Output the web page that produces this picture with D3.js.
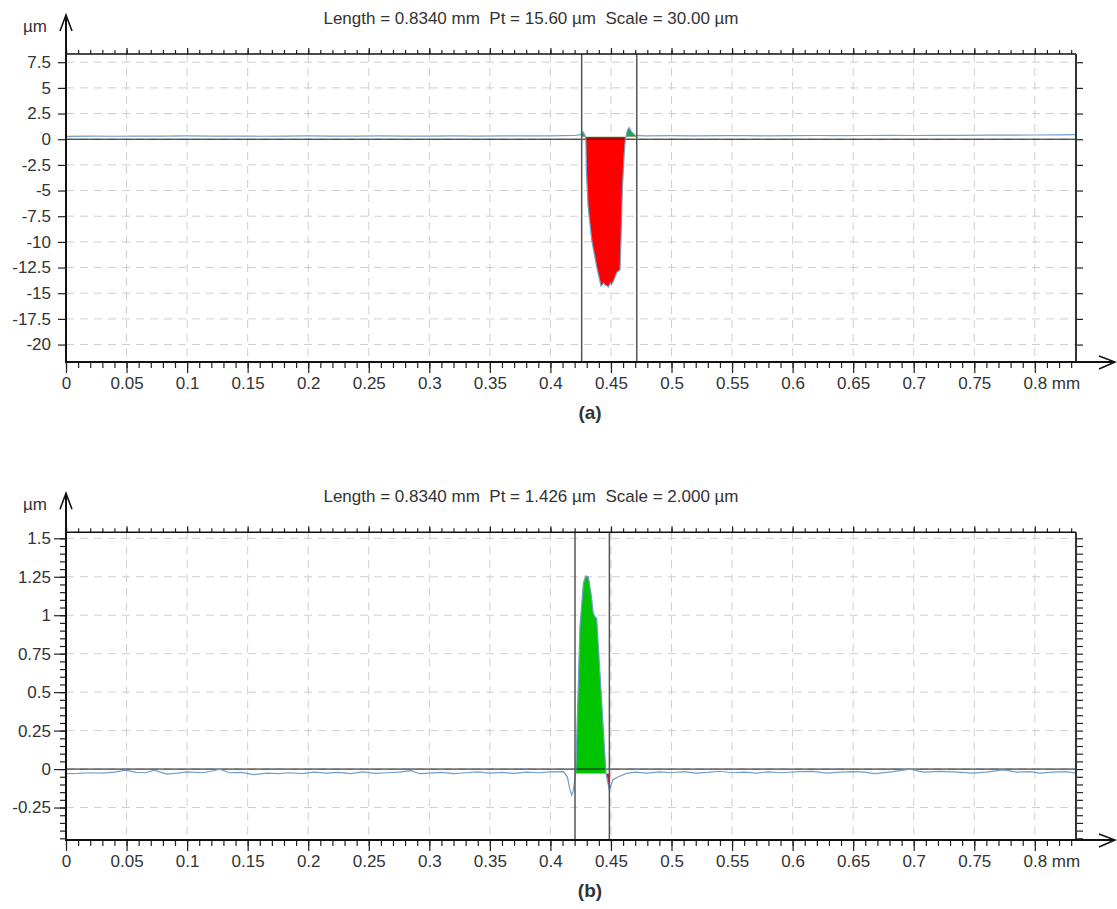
<!DOCTYPE html>
<html>
<head>
<meta charset="utf-8">
<script src="https://cdn.jsdelivr.net/npm/d3@7/dist/d3.min.js"></script>
<style>
  body { margin: 0; background: #fff; }
  text { font-family: "Liberation Sans", Arial, sans-serif; fill: #333; }
</style>
</head>
<body>
<div id="chart"></div>
<script>
// profile length (mm)
const lengthMm = 0.834;

// x axis ticks shared by both panels
const xTicks = [0, 0.05, 0.1, 0.15, 0.2, 0.25, 0.3, 0.35, 0.4, 0.45, 0.5, 0.55, 0.6, 0.65, 0.7, 0.75, 0.8];
const xTickLabels = ["0", "0.05", "0.1", "0.15", "0.2", "0.25", "0.3", "0.35", "0.4", "0.45", "0.5", "0.55", "0.6", "0.65", "0.7", "0.75", "0.8"];

// panel (a)
const titleA = "Length = 0.8340 mm  Pt = 15.60 µm  Scale = 30.00 µm";
const yDomainA = [-21.7, 8.3];
const yTicksA = [-20, -17.5, -15, -12.5, -10, -7.5, -5, -2.5, 0, 2.5, 5, 7.5];
const yTickLabelsA = ["-20", "-17.5", "-15", "-12.5", "-10", "-7.5", "-5", "-2.5", "0", "2.5", "5", "7.5"];
const cursorsA = [0.4258, 0.4713];
const refA = 0.25;
const profileA = [
  [0.000, 0.28], [0.020, 0.30], [0.040, 0.29], [0.060, 0.31], [0.080, 0.30], [0.100, 0.32],
  [0.120, 0.30], [0.140, 0.31], [0.160, 0.29], [0.180, 0.31], [0.200, 0.32], [0.220, 0.30],
  [0.240, 0.31], [0.260, 0.33], [0.280, 0.31], [0.300, 0.30], [0.320, 0.32], [0.340, 0.31],
  [0.360, 0.33], [0.380, 0.32], [0.400, 0.33], [0.410, 0.34], [0.420, 0.36], [0.424, 0.42],
  [0.4258, 0.55], [0.4268, 0.74], [0.4280, 0.50], [0.4290, 0.25], [0.4293, 0.0],
  [0.4297, -3.0], [0.4311, -6.5], [0.4341, -9.8], [0.4382, -12.4], [0.4418, -14.3],
  [0.4440, -14.0], [0.4451, -14.2], [0.4465, -14.25], [0.4478, -14.4], [0.4495, -14.0],
  [0.4506, -14.15], [0.4525, -13.7], [0.4547, -13.0], [0.4575, -12.7], [0.4583, -9.8],
  [0.4594, -4.9], [0.4608, -1.7], [0.4619, 0.1], [0.4625, 0.25], [0.4636, 0.9],
  [0.4650, 1.13], [0.4670, 0.70], [0.4700, 0.38], [0.4713, 0.34], [0.480, 0.33],
  [0.500, 0.34], [0.520, 0.32], [0.540, 0.34], [0.560, 0.35], [0.580, 0.33], [0.600, 0.35],
  [0.620, 0.36], [0.640, 0.34], [0.660, 0.36], [0.680, 0.37], [0.700, 0.36], [0.720, 0.38],
  [0.740, 0.37], [0.760, 0.39], [0.780, 0.40], [0.800, 0.41], [0.820, 0.43], [0.834, 0.44]
];

// panel (b)
const titleB = "Length = 0.8340 mm  Pt = 1.426 µm  Scale = 2.000 µm";
const yDomainB = [-0.461, 1.539];
const yTicksB = [-0.25, 0, 0.25, 0.5, 0.75, 1, 1.25, 1.5];
const yTickLabelsB = ["-0.25", "0", "0.25", "0.5", "0.75", "1", "1.25", "1.5"];
const cursorsB = [0.4203, 0.4487];
const refB = -0.028;
const profileB = [
  [0.000, -0.030], [0.010, -0.028], [0.020, -0.024], [0.030, -0.026], [0.040, -0.020],
  [0.049, -0.007], [0.058, -0.022], [0.066, -0.024], [0.073, -0.007], [0.083, -0.033],
  [0.092, -0.026], [0.100, -0.018], [0.113, -0.024], [0.122, -0.011], [0.127, 0.000],
  [0.135, -0.024], [0.145, -0.022], [0.155, -0.036], [0.166, -0.026], [0.175, -0.030],
  [0.185, -0.024], [0.195, -0.030], [0.205, -0.020], [0.215, -0.026], [0.225, -0.022],
  [0.235, -0.030], [0.245, -0.018], [0.255, -0.028], [0.265, -0.024], [0.275, -0.020],
  [0.285, -0.010], [0.292, -0.030], [0.300, -0.026], [0.310, -0.022], [0.320, -0.030],
  [0.330, -0.024], [0.340, -0.018], [0.350, -0.026], [0.360, -0.022], [0.370, -0.028],
  [0.380, -0.020], [0.390, -0.024], [0.400, -0.018], [0.4107, -0.017], [0.4140, -0.050],
  [0.4162, -0.137], [0.4176, -0.169], [0.4190, -0.137], [0.4204, -0.050], [0.4209, -0.028],
  [0.4244, 0.925], [0.4272, 1.207], [0.4291, 1.255], [0.4313, 1.250], [0.4335, 1.142],
  [0.4354, 1.012], [0.4368, 0.990], [0.4382, 0.980], [0.4459, -0.028], [0.4487, -0.137],
  [0.4514, -0.071], [0.4561, -0.050], [0.4630, -0.028], [0.4700, -0.020], [0.4800, -0.026],
  [0.4900, -0.018], [0.5000, -0.024], [0.5100, -0.016], [0.5200, -0.026], [0.5300, -0.022],
  [0.5400, -0.014], [0.5500, -0.024], [0.5600, -0.020], [0.5700, -0.026], [0.5800, -0.018],
  [0.5900, -0.024], [0.6060, -0.017], [0.6170, -0.015], [0.6280, -0.026], [0.6390, -0.020],
  [0.6500, -0.017], [0.6590, -0.020], [0.6680, -0.030], [0.6830, -0.017], [0.6970, 0.000],
  [0.7080, -0.020], [0.7220, -0.015], [0.7360, -0.020], [0.7490, -0.026], [0.7600, -0.020],
  [0.7740, -0.005], [0.7850, -0.020], [0.7960, -0.017], [0.8040, -0.026], [0.8150, -0.020],
  [0.8260, -0.017], [0.8340, -0.026]
];

const panels = [
  {id: "a", title: titleA, top: 54, bottom: 362, yDomain: yDomainA, yTicks: yTicksA, yLabels: yTickLabelsA,
   yMinor: [], rightTicks: yTicksA, leftTickSize: 8, leftPad: 7, cursors: cursorsA, ref: refA,
   profile: profileA, green: "#1fa544", red: "#ff0000"},
  {id: "b", title: titleB, top: 532.3, bottom: 840, yDomain: yDomainB, yTicks: yTicksB, yLabels: yTickLabelsB,
   yMinor: d3.range(-9, 31).map(i => i * 0.05), rightTicks: d3.range(-9, 31).map(i => i * 0.05),
   leftTickSize: 12, leftPad: 3, cursors: cursorsB, ref: refB,
   profile: profileB, green: "#00c400", red: "#d01030"}
];

const svg = d3.select("#chart").append("svg")
  .attr("width", 1117)
  .attr("height", 909)
  .style("background", "#fff");

const left = 66, right = 1076;
const x = d3.scaleLinear().domain([0, lengthMm]).range([left, right]);
const xMinor = d3.range(84).map(i => i / 100);

function styleAxis(sel, size) {
  sel.select(".domain").remove();
  sel.selectAll("line").attr("stroke", "#222").attr("stroke-width", 1.2);
  sel.selectAll("text")
    .style("font-family", '"Liberation Sans", Arial, sans-serif')
    .style("font-size", size + "px")
    .attr("fill", "#333");
}

panels.forEach(function(p) {
  let g = svg.append("g").attr("class", "panel-" + p.id);
  let y = d3.scaleLinear().domain(p.yDomain).range([p.bottom, p.top]);

  // dashed grid
  g.selectAll(".vgrid").data(xTicks.filter(d => d > 0)).join("line")
    .attr("x1", d => x(d)).attr("x2", d => x(d))
    .attr("y1", p.top).attr("y2", p.bottom)
    .attr("stroke", "#cfcfcf").attr("stroke-dasharray", "8,6");
  g.selectAll(".hgrid").data(p.yTicks).join("line")
    .attr("x1", left).attr("x2", right)
    .attr("y1", d => y(d)).attr("y2", d => y(d))
    .attr("stroke", "#cfcfcf").attr("stroke-dasharray", "8,6");

  // fills between cursors, green above the reference line, red below
  let area = d3.area()
    .x(d => x(d[0]))
    .y0(y(p.ref))
    .y1(d => y(d[1]));
  let inside = p.profile.filter(d => d[0] >= p.cursors[0] - 0.002 && d[0] <= p.cursors[1] + 0.002);
  let cx0 = x(p.cursors[0]), cx1 = x(p.cursors[1]);

  let defs = svg.append("defs");
  defs.append("clipPath").attr("id", "up-" + p.id).append("rect")
    .attr("x", cx0).attr("width", cx1 - cx0)
    .attr("y", p.top).attr("height", y(p.ref) - p.top);
  defs.append("clipPath").attr("id", "down-" + p.id).append("rect")
    .attr("x", cx0).attr("width", cx1 - cx0)
    .attr("y", y(p.ref)).attr("height", p.bottom - y(p.ref));

  g.append("path").attr("d", area(inside)).attr("fill", p.green)
    .attr("clip-path", "url(#up-" + p.id + ")");
  g.append("path").attr("d", area(inside)).attr("fill", p.red)
    .attr("clip-path", "url(#down-" + p.id + ")");

  // zero line
  g.append("line")
    .attr("x1", left).attr("x2", right)
    .attr("y1", y(0)).attr("y2", y(0))
    .attr("stroke", "#111").attr("stroke-width", 1);

  // profile
  let line = d3.line().x(d => x(d[0])).y(d => y(d[1]));
  g.append("path").attr("d", line(p.profile))
    .attr("fill", "none").attr("stroke", "#6f9fcc").attr("stroke-width", 1.2);

  // cursors
  g.selectAll(".cursor").data(p.cursors).join("line")
    .attr("x1", d => x(d)).attr("x2", d => x(d))
    .attr("y1", p.top).attr("y2", p.bottom)
    .attr("stroke", "#555").attr("stroke-width", 1.5);

  // bottom axis: minor + major ticks
  g.append("g").attr("transform", `translate(0,${p.bottom})`)
    .call(d3.axisBottom(x).tickValues(xMinor).tickSize(6).tickFormat(""))
    .call(s => styleAxis(s, 17));
  g.append("g").attr("transform", `translate(0,${p.bottom})`)
    .call(d3.axisBottom(x).tickValues(xTicks).tickSize(11).tickPadding(4)
      .tickFormat((d, i) => xTickLabels[i]))
    .call(s => styleAxis(s, 17));
  g.append("text")
    .attr("x", x(0.8) + 17).attr("y", p.bottom + 15).attr("dy", "0.71em")
    .style("font-size", "17px")
    .text("mm");

  // top ticks
  g.append("g").attr("transform", `translate(0,${p.top})`)
    .call(d3.axisTop(x).tickValues(xMinor).tickSize(4).tickFormat(""))
    .call(s => styleAxis(s, 17));
  g.append("g").attr("transform", `translate(0,${p.top})`)
    .call(d3.axisTop(x).tickValues(xTicks).tickSize(6).tickFormat(""))
    .call(s => styleAxis(s, 17));

  // left axis
  if (p.yMinor.length) {
    g.append("g").attr("transform", `translate(${left},0)`)
      .call(d3.axisLeft(y).tickValues(p.yMinor).tickSize(6).tickFormat(""))
      .call(s => styleAxis(s, 17));
  }
  g.append("g").attr("transform", `translate(${left},0)`)
    .call(d3.axisLeft(y).tickValues(p.yTicks).tickSize(p.leftTickSize).tickPadding(p.leftPad)
      .tickFormat((d, i) => p.yLabels[i]))
    .call(s => styleAxis(s, 17));

  // right ticks
  g.append("g").attr("transform", `translate(${right},0)`)
    .call(d3.axisRight(y).tickValues(p.rightTicks).tickSize(7).tickFormat(""))
    .call(s => styleAxis(s, 17));

  // frame
  g.append("line").attr("x1", left).attr("x2", right).attr("y1", p.top).attr("y2", p.top)
    .attr("stroke", "#111").attr("stroke-width", 1.6);
  g.append("line").attr("x1", right).attr("x2", right).attr("y1", p.top).attr("y2", p.bottom)
    .attr("stroke", "#333").attr("stroke-width", 2);
  g.append("line").attr("x1", left).attr("x2", 1115).attr("y1", p.bottom).attr("y2", p.bottom)
    .attr("stroke", "#111").attr("stroke-width", 2);
  let apex = p.top - 39;
  g.append("line").attr("x1", left).attr("x2", left).attr("y1", p.bottom + 1).attr("y2", apex)
    .attr("stroke", "#111").attr("stroke-width", 2);

  // arrow heads
  g.append("path")
    .attr("d", `M${left - 6},${apex + 16} L${left},${apex} L${left + 6},${apex + 16}`)
    .attr("fill", "none").attr("stroke", "#111").attr("stroke-width", 1.6);
  g.append("path")
    .attr("d", `M1099,${p.bottom - 6} L1115,${p.bottom} L1099,${p.bottom + 7}`)
    .attr("fill", "none").attr("stroke", "#111").attr("stroke-width", 1.6);

  // unit label and title
  g.append("text").attr("x", 23).attr("y", apex + 17)
    .style("font-size", "17px").text("µm");
  g.append("text").attr("x", 531).attr("y", apex + 9)
    .attr("text-anchor", "middle")
    .style("font-size", "17px").style("white-space", "pre")
    .text(p.title);

  // panel label
  g.append("text").attr("x", 590).attr("y", p.bottom + 57)
    .attr("text-anchor", "middle")
    .style("font-size", "19px").style("font-weight", "bold")
    .text("(" + p.id + ")");
});
</script>
</body>
</html>
